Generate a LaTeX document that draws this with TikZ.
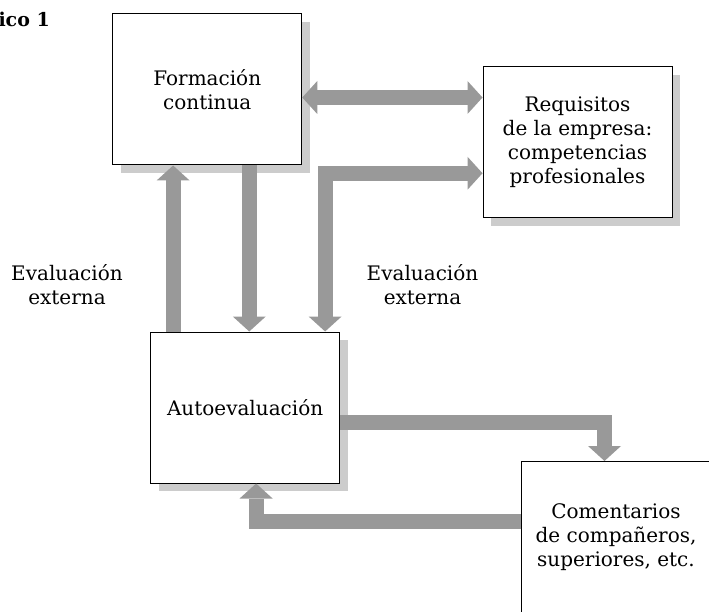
\documentclass[tikz,border=0pt]{standalone}
\usepackage{fontspec}
\setmainfont{DejaVu Serif}
\usepackage{tikz}
\usetikzlibrary{arrows.meta,shadows,calc}
\tikzstyle{block} = [draw, line width=1pt, fill=white, minimum width=189pt, minimum height=151pt, inner sep=0pt, align=center, font=\fontsize{20}{24}\selectfont, drop shadow={shadow xshift=8pt, shadow yshift=-8pt, fill=black!20, opacity=1}]
\tikzstyle{evaltext} = [align=center, font=\fontsize{20}{24}\selectfont]
\tikzstyle{flow} = [draw, line width=15pt, color=black!40, -{Triangle[width=33pt,length=15pt,line width=0pt]}]
\tikzstyle{flowboth} = [flow, {Triangle[width=33pt,length=15pt,line width=0pt]}-{Triangle[width=33pt,length=15pt,line width=0pt]}]

\begin{document}
\begin{tikzpicture}[x=1pt,y=-1pt]
\useasboundingbox (0,0) rectangle (709,612);

\node[anchor=base east, inner sep=0pt, font=\bfseries\fontsize{19}{23}\selectfont] (title) at (50,27) {ico 1};

\node[block] (form) at (207.25,89.5) {Formación\\continua};
\node[block] (req) at (577.5,142.25) {Requisitos\\de la empresa:\\competencias\\profesionales};
\node[block] (auto) at (245.1,407.5) {Autoevaluación};
\node[block] (com) at (616,537) {Comentarios\\de compañeros,\\superiores, etc.};

\node[evaltext] (evl) at (67,285) {Evaluación\\externa};
\node[evaltext] (evr) at (422.5,285) {Evaluación\\externa};

% arrows between the blocks
\coordinate (fr) at ($(form.east)+(0,8)$);
\draw[flowboth] (fr) -- (fr -| req.west);

\coordinate (up) at ($(auto.north west)+(23,0)$);
\draw[flow] (up) -- (up |- form.south);

\coordinate (dn) at ($(form.south)+(42,0)$);
\draw[flow] (dn) -- (dn |- auto.north);

\coordinate (el) at ($(auto.north east)+(-15,0)$);
\coordinate (er) at ($(req.west)+(0,31)$);
\draw[flowboth] (el) |- (er);

\coordinate (ac) at ($(auto.east)+(0,15)$);
\coordinate (ct) at ($(com.north)+(-11.5,0)$);
\draw[flow] (ac) -| (ct);

\coordinate (ca) at ($(com.west)+(0,-15.5)$);
\coordinate (ab) at ($(auto.south)+(11,0)$);
\draw[flow] (ca) -| (ab);

\end{tikzpicture}
\end{document}
